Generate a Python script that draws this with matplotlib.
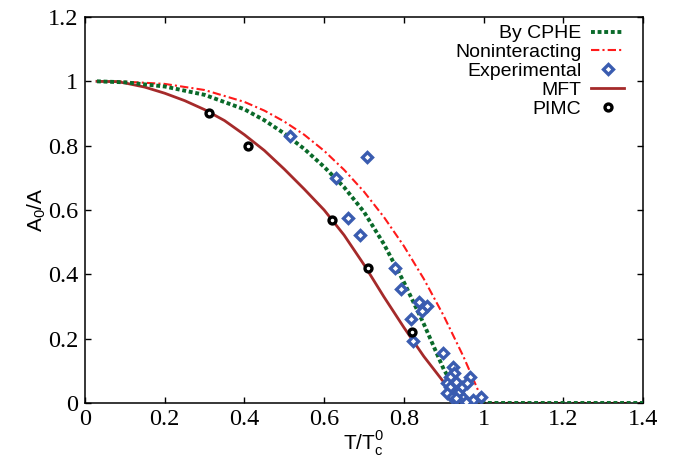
import matplotlib
matplotlib.use("Agg")
import matplotlib.pyplot as plt

# Noninteracting curve
t_nonint = [0.03, 0.1, 0.2, 0.3, 0.4, 0.45, 0.5, 0.55, 0.6, 0.65, 0.7, 0.75, 0.8,
            0.85, 0.9, 0.95, 1.0, 1.4]
a_nonint = [1.0, 0.999, 0.992, 0.973, 0.936, 0.909, 0.875, 0.834, 0.784, 0.725,
            0.657, 0.578, 0.488, 0.386, 0.271, 0.143, 0.0, 0.0]

# By CPHE curve
t_cphe = [0.03, 0.1, 0.2, 0.3, 0.4, 0.45, 0.5, 0.55, 0.6, 0.65, 0.7, 0.75, 0.8,
          0.85, 0.9, 0.93, 0.95, 0.96, 1.4]
a_cphe = [1.0, 0.997, 0.984, 0.958, 0.913, 0.879, 0.838, 0.79, 0.734, 0.671,
          0.594, 0.494, 0.376, 0.246, 0.105, 0.04, 0.008, 0.0, 0.0]

# MFT curve
t_mft = [0.03, 0.08, 0.1, 0.15, 0.2, 0.25, 0.3, 0.35, 0.4, 0.45, 0.5, 0.55, 0.6,
         0.65, 0.7, 0.75, 0.8, 0.85, 0.9, 0.94, 0.95]
a_mft = [1.0, 0.999, 0.995, 0.982, 0.963, 0.94, 0.912, 0.878, 0.834, 0.785, 0.727,
         0.665, 0.6, 0.522, 0.43, 0.33, 0.235, 0.145, 0.065, 0.01, 0.0]

# PIMC points
t_pimc = [0.31, 0.41, 0.62, 0.71, 0.82]
a_pimc = [0.90, 0.80, 0.57, 0.42, 0.22]

# Experimental points
t_exp = [0.514, 0.708, 0.629, 0.661, 0.69, 0.778, 0.793, 0.839, 0.859, 0.845,
         0.818, 0.822, 0.899, 0.924, 0.926, 0.917, 0.907, 0.916, 0.931, 0.945,
         0.966, 0.959, 0.907, 0.92, 0.937, 0.949, 0.974, 0.993, 0.957, 0.932]
a_exp = [0.831, 0.764, 0.698, 0.574, 0.522, 0.419, 0.353, 0.315, 0.302, 0.287,
         0.261, 0.194, 0.154, 0.111, 0.092, 0.082, 0.061, 0.051, 0.066, 0.051,
         0.082, 0.063, 0.03, 0.018, 0.03, 0.015, 0.009, 0.018, 0.004, 0.015]

x_ticks = [0, 0.2, 0.4, 0.6, 0.8, 1, 1.2, 1.4]
x_labels = ["0", "0.2", "0.4", "0.6", "0.8", "1", "1.2", "1.4"]
y_ticks = [0, 0.2, 0.4, 0.6, 0.8, 1, 1.2]
y_labels = ["0", "0.2", "0.4", "0.6", "0.8", "1", "1.2"]

fig = plt.figure(figsize=(6.85, 4.61), dpi=100)
ax = fig.add_axes([85 / 685, 1 - 403 / 461, 558 / 685, 386 / 461])

ax.plot(t_nonint, a_nonint, color="#ff1a1a", lw=1.5, dashes=(4, 1.5, 1, 1.5),
        label="Noninteracting", zorder=2)
ax.plot(t_cphe, a_cphe, color="#0a6a2a", lw=2.8, dashes=(1.0, 0.7),
        label="By CPHE", zorder=3)
ax.plot(t_mft, a_mft, color="#a52a2a", lw=2.0, label="MFT", zorder=2)
ax.plot(t_exp, a_exp, ls="none", marker="D", ms=5, mfc="white", mec="#3a5cb0",
        mew=2.4, label="Experimental", zorder=4)
ax.plot(t_pimc, a_pimc, ls="none", marker="o", ms=5, mfc="white", mec="black",
        mew=2.4, label="PIMC", zorder=5)

ax.set_xlim(0, 1.4)
ax.set_ylim(0, 1.2)
ax.set_xticks(x_ticks)
ax.set_xticklabels(x_labels, fontfamily="Liberation Serif", fontsize=17.5)
ax.set_yticks(y_ticks)
ax.set_yticklabels(y_labels, fontfamily="Liberation Serif", fontsize=17.5)
ax.tick_params(direction="in", length=4, width=1, top=True, right=True)
ax.tick_params(axis="x", pad=4)
ax.tick_params(axis="y", pad=5)
for s in ax.spines.values():
    s.set_linewidth(1.1)

ax.set_xlabel(r"T/T$_\mathregular{c}^\mathregular{0}$", fontfamily="Liberation Sans",
              fontsize=15, labelpad=0)
ax.set_ylabel(r"A$_\mathregular{0}$/A", fontfamily="Liberation Sans", fontsize=15,
              labelpad=0)

handles, labels = ax.get_legend_handles_labels()
order = ["By CPHE", "Noninteracting", "Experimental", "MFT", "PIMC"]
hmap = dict(zip(labels, handles))
leg = ax.legend([hmap[k] for k in order], order, loc="upper right",
                bbox_to_anchor=(0.966, 0.98), frameon=False, markerfirst=False,
                prop={"family": "Liberation Sans", "size": 14}, handlelength=1.7,
                handletextpad=0.5, labelspacing=0.07, borderpad=0, borderaxespad=0)
for t in leg.get_texts():
    t.set_ha("right")

fig.savefig("out.png", dpi=100)
